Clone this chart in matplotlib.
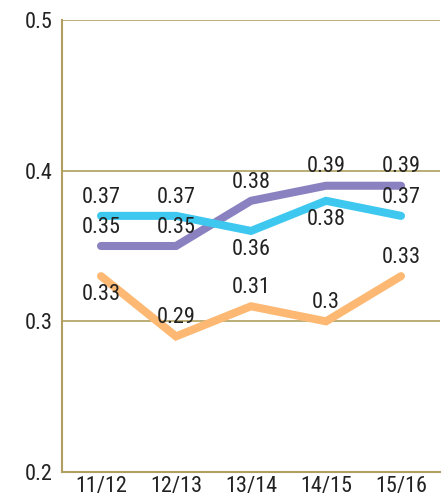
import matplotlib.pyplot as plt
from matplotlib import font_manager

# pick a condensed font if available, else a narrow-ish sans
names = {f.name for f in font_manager.fontManager.ttflist}
fam = 'Roboto'
for cand in ['Roboto Condensed', 'Liberation Sans Narrow', 'Open Sans Condensed', 'Roboto']:
    if cand in names:
        fam = cand
        break
plt.rcParams['font.family'] = [fam, 'DejaVu Sans']

seasons = ['11/12', '12/13', '13/14', '14/15', '15/16']
purple_vals = [0.35, 0.35, 0.38, 0.39, 0.39]
cyan_vals = [0.37, 0.37, 0.36, 0.38, 0.37]
orange_vals = [0.33, 0.29, 0.31, 0.30, 0.33]

# label placement: +1 above, -1 below
purple_pos = [1, 1, 1, 1, 1]
cyan_pos = [1, 1, -1, -1, 1]
orange_pos = [-1, 1, 1, 1, 1]

olive = '#b09f5f'
fig = plt.figure(figsize=(4.42, 4.98), dpi=100)
ax = fig.add_axes([62 / 442, 26 / 498, 378 / 442, 452 / 498])

x = range(len(seasons))
series = [
    (purple_vals, purple_pos, '#8a82c0'),
    (cyan_vals, cyan_pos, '#3ec8f0'),
    (orange_vals, orange_pos, '#fdb973'),
]
for vals, pos, col in series:
    ax.plot(x, vals, color=col, lw=5.8, solid_capstyle='round', solid_joinstyle='miter', zorder=3)
    for i, (v, p) in enumerate(zip(vals, pos)):
        lbl = f'{v:g}'
        ax.annotate(lbl, (i, v), xytext=(0, 13.5 * p), textcoords='offset points',
                    ha='center', va='center', fontsize=16, color='#222222', zorder=4)

ax.set_xlim(-0.52, 4.52)
ax.set_ylim(0.2, 0.5)
ax.set_yticks([0.2, 0.3, 0.4, 0.5])
ax.set_yticklabels(['0.2', '0.3', '0.4', '0.5'])
ax.set_xticks(list(x))
ax.set_xticklabels(seasons)
ax.tick_params(length=0, labelsize=16, labelcolor='#222222')
ax.tick_params(axis='y', pad=7)
ax.tick_params(axis='x', pad=3)

for y in [0.3, 0.4, 0.5]:
    ax.axhline(y, color=olive, lw=1.2, zorder=1)
for s in ['top', 'right']:
    ax.spines[s].set_visible(False)
for s in ['left', 'bottom']:
    ax.spines[s].set_color(olive)
    ax.spines[s].set_linewidth(1.5)

fig.savefig('out.png', dpi=100)
